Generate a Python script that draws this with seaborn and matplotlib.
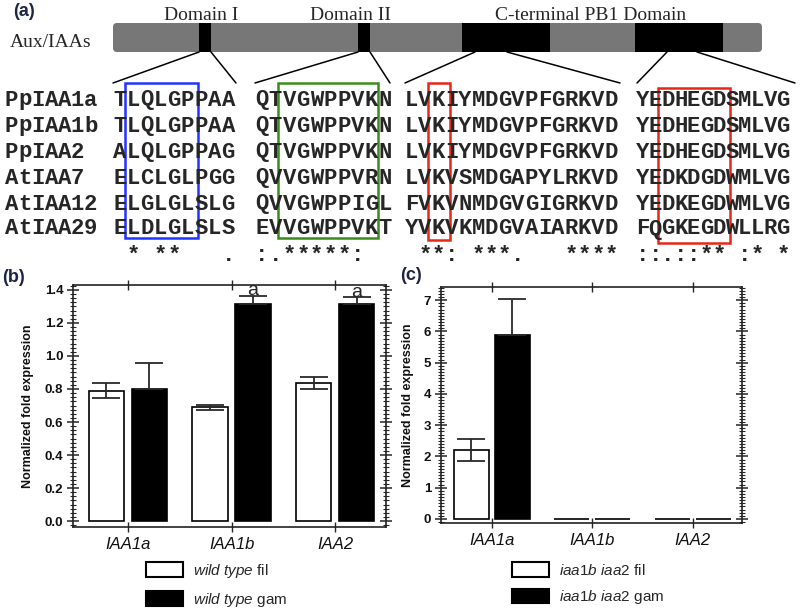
import matplotlib
matplotlib.use("Agg")
import matplotlib.pyplot as plt
import matplotlib.ticker as mticker
from matplotlib.patches import FancyBboxPatch, Rectangle, Patch
import pandas as pd
import seaborn as sns

# ---- data -------------------------------------------------------------
genes = ["IAA1a", "IAA1b", "IAA2"]

# (b) wild type
wt_fil = [0.79, 0.69, 0.835]
wt_fil_err = [0.045, 0.015, 0.035]
wt_gam = [0.80, 1.315, 1.315]
wt_gam_err = [0.155, 0.05, 0.04]
wt_gam_sig = ["", "a", "a"]

# (c) iaa1b iaa2 double mutant
mut_fil = [2.2, 0.01, 0.01]
mut_fil_err = [0.35, 0.0, 0.0]
mut_gam = [5.9, 0.01, 0.01]
mut_gam_err = [1.15, 0.0, 0.0]

# (a) alignment
seq_names = ["PpIAA1a", "PpIAA1b", "PpIAA2", "AtIAA7", "AtIAA12", "AtIAA29"]
dom1 = ["TLQLGPPAA", "TLQLGPPAA", "ALQLGPPAG", "ELCLGLPGG", "ELGLGLSLG", "ELDLGLSLS"]
dom2 = ["QTVGWPPVKN", "QTVGWPPVKN", "QTVGWPPVKN", "QVVGWPPVRN", "QVVGWPPIGL", "EVVGWPPVKT"]
pb1a = ["LVKIYMDGVPFGRKVD", "LVKIYMDGVPFGRKVD", "LVKIYMDGVPFGRKVD",
        "LVKVSMDGAPYLRKVD", "FVKVNMDGVGIGRKVD", "YVKVKMDGVAIARKVD"]
pb1b = ["YEDHEGDSMLVG", "YEDHEGDSMLVG", "YEDHEGDSMLVG",
        "YEDKDGDWMLVG", "YEDKEGDWMLVG", "FQGKEGDWLLRG"]
consensus = [" * **   .", ":.*****:  ", " **: ***.   ****", "::.::** :* *"]

# ---- style ------------------------------------------------------------
sns.set_style("ticks")
plt.rcParams["font.family"] = "Liberation Sans"
plt.rcParams["mathtext.fontset"] = "custom"
plt.rcParams["mathtext.it"] = "Liberation Sans:italic"
plt.rcParams["mathtext.rm"] = "Liberation Sans"

fig = plt.figure(figsize=(8, 6.12), dpi=100)

# overlay in pixel units for panel (a)
ax0 = fig.add_axes([0, 0, 1, 1])
ax0.set_xlim(0, 800)
ax0.set_ylim(612, 0)
ax0.axis("off")

lab_color = "#1c2545"
ax0.text(13, 12, "(a)", fontsize=13, fontweight="bold", color=lab_color, va="center")
ax0.text(2, 277, "(b)", fontsize=13, fontweight="bold", color=lab_color, va="center")
ax0.text(400, 275, "(c)", fontsize=13, fontweight="bold", color=lab_color, va="center")

serif = "Liberation Serif"
ax0.text(201, 20, "Domain I", family=serif, fontsize=14, ha="center", va="baseline")
ax0.text(351, 20, "Domain II", family=serif, fontsize=14, ha="center", va="baseline")
ax0.text(591, 20, "C-terminal PB1 Domain", family=serif, fontsize=14, ha="center", va="baseline")
ax0.text(10, 47, "Aux/IAAs", family=serif, fontsize=14, va="baseline")

# protein cartoon
ax0.add_patch(FancyBboxPatch((113, 23), 649, 29, boxstyle="round,pad=0,rounding_size=4",
                             facecolor="#777777", edgecolor="none"))
for x0, x1 in [(199, 211), (358, 370), (462, 550), (635, 723)]:
    ax0.add_patch(Rectangle((x0, 23), x1 - x0, 29, facecolor="black", edgecolor="none"))

# zoom lines
for (xa, xb) in [(199, 113), (211, 236), (358, 255), (370, 390),
                 (475, 405), (507, 620), (667, 637), (697, 795)]:
    ax0.plot([xa, xb], [52, 83], color="black", lw=1.1)

# alignment text
mono = dict(family="Liberation Mono", fontsize=16, fontweight="bold", va="baseline", ha="center")
row_base = [105.5, 131.5, 157.5, 183.5, 209.5, 234.5]
groups = [(dom1, 113, 13.56), (dom2, 255, 13.7), (pb1a, 405, 13.3), (pb1b, 636, 12.8)]
for r, name in enumerate(seq_names):
    for i, ch in enumerate(name):
        ax0.text(5 + (i + 0.5) * 13.2, row_base[r], ch, **mono)
    for seqs, start, pitch in groups:
        for i, ch in enumerate(seqs[r]):
            ax0.text(start + (i + 0.5) * pitch, row_base[r], ch, **mono)
for (seqs, start, pitch), cons in zip(groups, consensus):
    for i, ch in enumerate(cons):
        if ch != " ":
            ax0.text(start + (i + 0.5) * pitch, 261, ch, **mono)

# highlight boxes
for x0, y0, x1, y1, c in [(125, 83, 198, 238, "#2233ff"), (278, 83, 378, 238, "#3a8a1c"),
                          (428, 83, 450, 240, "#e5281a"), (658, 88, 730, 243, "#e5281a")]:
    ax0.add_patch(Rectangle((x0, y0), x1 - x0, y1 - y0, fill=False, edgecolor=c, lw=1.8))


# ---- bar panels -------------------------------------------------------
def bar_panel(rect, fil, fil_err, gam, gam_err, fil_lab, gam_lab, width, gap,
              xlim, ylim, major, minor, fmt, label_x, leg_xy, sig=None):
    ax = fig.add_axes(rect)
    df = pd.DataFrame({
        "gene": genes * 2,
        "value": fil + gam,
        "err": fil_err + gam_err,
        "group": ["fil"] * len(genes) + ["gam"] * len(genes),
    })
    sns.barplot(data=df, x="gene", y="value", hue="group", hue_order=["fil", "gam"],
                palette=["white", "black"], edgecolor="black", linewidth=1.2,
                width=width, gap=gap, errorbar=None, legend=False, ax=ax)
    bars = [p for p in ax.patches if p.get_width() > 0]
    for p, (_, row) in zip(bars, df.iterrows()):
        xc = p.get_x() + p.get_width() / 2
        if row["err"] > 0:
            # the lower half of the black bars' error bars is hidden by the bar
            low = row["err"] if row["group"] == "fil" else 0
            ax.errorbar(xc, row["value"], yerr=[[low], [row["err"]]], fmt="none",
                        ecolor="#2a2a2a", elinewidth=1.3, capsize=10, capthick=1.3,
                        zorder=3)
    if sig is not None:
        for p, s, v, e in zip(bars[len(genes):], sig, gam, gam_err):
            if s:
                ax.text(p.get_x() + p.get_width() / 2, v + e + 0.003, s, ha="center",
                        va="baseline", fontsize=14, clip_on=False)

    ax.set_xlim(*xlim)
    ax.set_ylim(*ylim)
    ax.yaxis.set_major_locator(mticker.MultipleLocator(major))
    ax.yaxis.set_minor_locator(mticker.MultipleLocator(minor))
    ax.yaxis.set_major_formatter(mticker.FormatStrFormatter(fmt))
    ax.tick_params(axis="y", which="major", direction="inout", length=8, width=1.1,
                   right=True, labelsize=9.5, pad=3, labelcolor="#111111")
    ax.tick_params(axis="y", which="minor", direction="inout", length=5, width=0.8, right=True)
    ax.tick_params(axis="x", which="major", direction="inout", length=7, width=1.0,
                   top=True, labelsize=12, pad=4, labelcolor="#111111")
    for lbl in ax.get_yticklabels():
        lbl.set_fontweight("bold")
    for lbl in ax.get_xticklabels():
        lbl.set_fontstyle("italic")
    for sp in ax.spines.values():
        sp.set_visible(True)
        sp.set_linewidth(1.2)
        sp.set_color("#222222")
    ax.set_xlabel("")
    ax.set_ylabel("Normalized fold expression", fontsize=9, fontweight="bold", color="#111111")
    ax.yaxis.set_label_coords(label_x, 0.5)

    handles = [Patch(facecolor="white", edgecolor="black", lw=1.5),
               Patch(facecolor="black", edgecolor="black", lw=1.5)]
    fig.legend(handles, [fil_lab, gam_lab], loc="upper left",
               bbox_to_anchor=leg_xy, bbox_transform=fig.transFigure,
               frameon=False, fontsize=11, borderpad=0, borderaxespad=0,
               handlelength=2.4, handleheight=1.1, handletextpad=0.65, labelspacing=0.7)
    return ax


bar_panel([73 / 800, 1 - 527 / 612, 313 / 800, 242 / 612],
          wt_fil, wt_fil_err, wt_gam, wt_gam_err,
          r"$\mathit{wild\ type}$ fil", r"$\mathit{wild\ type}$ gam",
          0.83, 0.18, (-0.53, 2.49), (-0.036, 1.43), 0.2, 0.025, "%.1f",
          -0.125, (146 / 800, 1 - 562 / 612), sig=wt_gam_sig)

bar_panel([441 / 800, 1 - 523 / 612, 301 / 800, 236 / 612],
          mut_fil, mut_fil_err, mut_gam, mut_gam_err,
          r"$\mathit{iaa1b\ iaa2}$ fil", r"$\mathit{iaa1b\ iaa2}$ gam",
          0.816, 0.14, (-0.507, 2.49), (-0.13, 7.42), 1, 0.1, "%d",
          -0.09, (512 / 800, 1 - 562 / 612))

fig.savefig("out.png", dpi=100)
